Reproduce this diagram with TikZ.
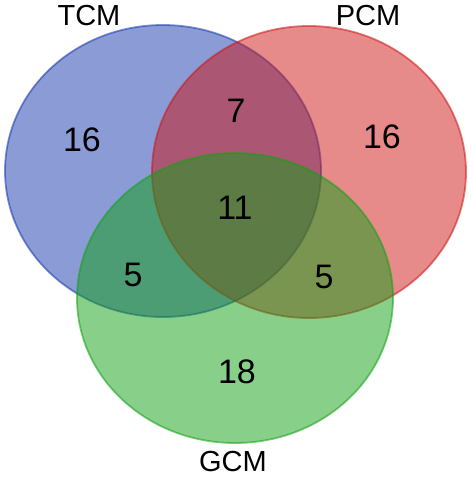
\documentclass[tikz,border=0pt]{standalone}
\usepackage{fontspec}
\setmainfont{Liberation Sans}
\usetikzlibrary{positioning}
\definecolor{tcmblue}{RGB}{21,55,173}
\definecolor{pcmred}{RGB}{205,21,21}
\definecolor{gcmgreen}{RGB}{17,161,21}
\begin{document}
\begin{tikzpicture}[x=1pt, y=-1pt,
    setfill/.style={fill=#1, fill opacity=0.5, draw=#1, draw opacity=0.55, line width=1.8pt},
    setname/.style={font=\fontsize{29}{29}\selectfont, inner sep=0pt},
    count/.style={font=\fontsize{34}{34}\selectfont, inner sep=0pt}]
  \useasboundingbox (0,0) rectangle (472,477);
  % Sets
  \draw[setfill=tcmblue] (163,171) ellipse [x radius=158, y radius=146];
  \draw[setfill=pcmred] (309,172) ellipse [x radius=157, y radius=146];
  \draw[setfill=gcmgreen] (235,298) ellipse [x radius=158, y radius=145];
  % Set names
  \node[setname] (tcm) at (89,16) {TCM};
  \node[setname] (pcm) at (368,16) {PCM};
  \node[setname] (gcm) at (233,462) {GCM};
  % Counts
  \node[count] (tonly) at (82,140) {16};
  \node[count] (ponly) at (382,137) {16};
  \node[count] (gonly) at (237,372) {18};
  \node[count] (tp) at (236,111) {7};
  \node[count] (tg) at (133,275) {5};
  \node[count] (pg) at (324,277) {5};
  \node[count] (tpg) at (235,208) {11};
\end{tikzpicture}
\end{document}
